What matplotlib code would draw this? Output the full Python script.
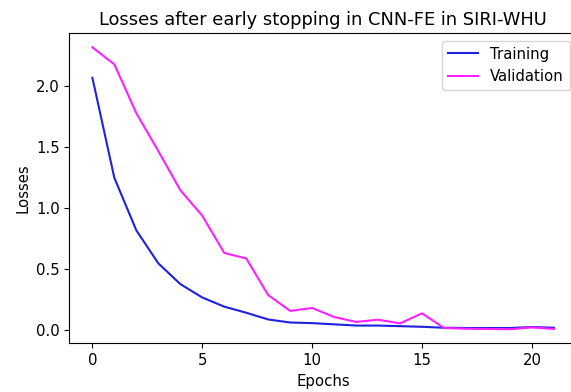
import matplotlib
matplotlib.use("Agg")
import matplotlib.pyplot as plt

# loss per epoch for the CNN-FE run on SIRI-WHU
epochs = list(range(22))
train_loss = [2.07, 1.25, 0.82, 0.55, 0.38, 0.27, 0.195, 0.145, 0.09, 0.065,
              0.06, 0.05, 0.04, 0.04, 0.035, 0.03, 0.022, 0.02, 0.02, 0.02,
              0.028, 0.022]
val_loss = [2.32, 2.18, 1.78, 1.47, 1.15, 0.94, 0.635, 0.59, 0.29, 0.16,
            0.184, 0.11, 0.07, 0.088, 0.058, 0.14, 0.02, 0.014, 0.012, 0.01,
            0.025, 0.012]

plt.rcParams['font.size'] = 10.7

fig = plt.figure(figsize=(5.71, 3.92), dpi=100)
# axes run slightly past the right edge of the canvas
ax = fig.add_axes([0.1214, 0.1242, 0.889, 0.791])
ax.plot(epochs, train_loss, color='#2020e0', label='Training')
ax.plot(epochs, val_loss, color='#ff20ff', label='Validation')
ax.spines['right'].set_visible(False)
ax.set_title('Losses after early stopping in CNN-FE in SIRI-WHU')
ax.set_xlabel('Epochs')
ax.set_ylabel('Losses')
ax.legend(loc='upper right')
fig.savefig('out.png', dpi=100)
